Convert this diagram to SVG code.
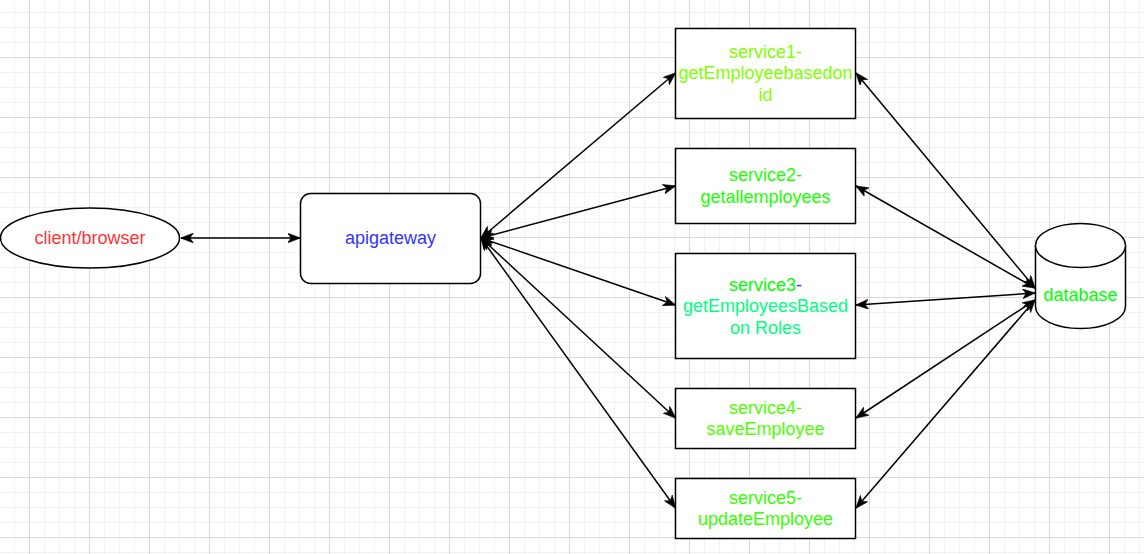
<svg xmlns="http://www.w3.org/2000/svg" width="1144" height="554" viewBox="0 0 1144 554">
  <style>
    .node { fill: #ffffff; stroke: #000000; stroke-width: 1.5; }
    .lbl { font-family: "Liberation Sans", Arial, Helvetica, sans-serif; font-size: 18px; text-anchor: middle; }
    .conn { stroke: #000000; stroke-width: 1.5; fill: none; marker-start: url(#arr); marker-end: url(#arr); }
  </style>
  <defs>
    <pattern id="grid" x="29" y="57" width="60" height="60" patternUnits="userSpaceOnUse">
      <path d="M15.5,0 V60 M30.5,0 V60 M45.5,0 V60 M0,15.5 H60 M0,30.5 H60 M0,45.5 H60" stroke="#f2f2f2" stroke-width="1" fill="none"/>
      <path d="M0.5,0 V60 M0,0.5 H60" stroke="#d9d9d9" stroke-width="1" fill="none"/>
    </pattern>
    <marker id="arr" viewBox="0 0 13 10" refX="12.5" refY="5" markerWidth="13" markerHeight="10" markerUnits="userSpaceOnUse" orient="auto-start-reverse">
      <path d="M0,0 L13,5 L0,10 L3.5,5 Z" fill="#000000" stroke="#000000" stroke-width="0.5"/>
    </marker>
  </defs>
  <rect x="0" y="0" width="1144" height="554" fill="#ffffff"/>
  <rect x="0" y="0" width="1144" height="554" fill="url(#grid)"/>

  <g id="connectors">
    <line class="conn" x1="181" y1="238" x2="300" y2="238"/>
    <line class="conn" x1="481" y1="238" x2="675.5" y2="73"/>
    <line class="conn" x1="481" y1="238" x2="675.5" y2="186"/>
    <line class="conn" x1="481" y1="238" x2="675.5" y2="305"/>
    <line class="conn" x1="481" y1="238" x2="675.5" y2="418"/>
    <line class="conn" x1="481" y1="238" x2="675.5" y2="508"/>
    <line class="conn" x1="856" y1="73" x2="1035" y2="288"/>
    <line class="conn" x1="856" y1="186" x2="1035" y2="288"/>
    <line class="conn" x1="856" y1="305" x2="1035" y2="293"/>
    <line class="conn" x1="856" y1="418" x2="1035" y2="300"/>
    <line class="conn" x1="856" y1="508" x2="1035" y2="300"/>
  </g>

  <g id="client">
    <ellipse class="node" cx="90" cy="238" rx="89.5" ry="30"/>
    <text class="lbl" x="90" y="244" fill="#FF3333">client/browser</text>
  </g>

  <g id="apigateway">
    <rect class="node" x="300.5" y="193.5" width="180" height="90" rx="10" ry="10"/>
    <text class="lbl" x="390.5" y="244" fill="#3333FF">apigateway</text>
  </g>

  <g id="service1">
    <rect class="node" x="675.5" y="28.5" width="180" height="90"/>
    <text class="lbl" fill="#80FF00"><tspan x="765.5" y="57.5">service1-</tspan><tspan x="765.5" y="79">getEmployeebasedon</tspan><tspan x="765.5" y="100.5">id</tspan></text>
  </g>

  <g id="service2">
    <rect class="node" x="675.5" y="148.5" width="180" height="75"/>
    <text class="lbl" fill="#1AFF00"><tspan x="765.5" y="181">service2-</tspan><tspan x="765.5" y="202.5">getallemployees</tspan></text>
  </g>

  <g id="service3">
    <rect class="node" x="675.5" y="253.5" width="180" height="105"/>
    <text class="lbl"><tspan x="765.5" y="290.5" fill="#00FF00">service3<tspan fill="#3333FF">-</tspan></tspan><tspan x="765.5" y="312" fill="#00FF80">getEmployeesBased</tspan><tspan x="765.5" y="333.5" fill="#00FF80">on Roles</tspan></text>
  </g>

  <g id="service4">
    <rect class="node" x="675.5" y="388.5" width="180" height="60"/>
    <text class="lbl" fill="#4DFF00"><tspan x="765.5" y="413.5">service4-</tspan><tspan x="765.5" y="435">saveEmployee</tspan></text>
  </g>

  <g id="service5">
    <rect class="node" x="675.5" y="478.5" width="180" height="60"/>
    <text class="lbl" fill="#33FF00"><tspan x="765.5" y="503.5">service5-</tspan><tspan x="765.5" y="525">updateEmployee</tspan></text>
  </g>

  <g id="database">
    <path class="node" d="M1035.5,245.5 A45,22 0 0 1 1125.5,245.5 L1125.5,306.5 A45,22 0 0 1 1035.5,306.5 Z"/>
    <path class="node" fill="none" d="M1035.5,245.5 A45,22 0 0 0 1125.5,245.5"/>
    <text class="lbl" x="1080.5" y="301" fill="#00FF00">database</text>
  </g>
</svg>
